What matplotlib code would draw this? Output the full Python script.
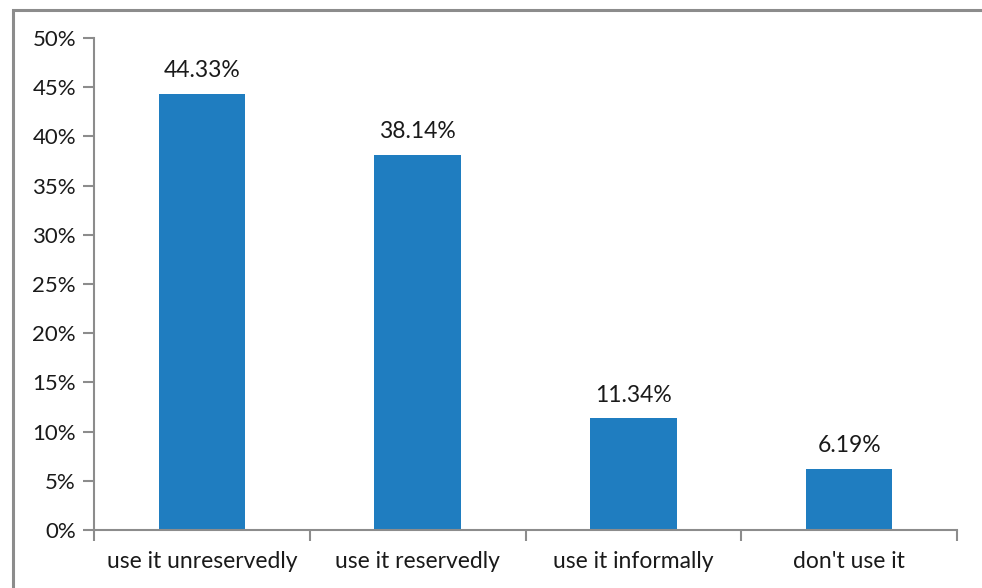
import matplotlib.pyplot as plt
from matplotlib.patches import Rectangle
from matplotlib.ticker import FuncFormatter

categories = ["use it unreservedly", "use it reservedly", "use it informally", "don't use it"]
shares = [44.33, 38.14, 11.34, 6.19]

plt.rcParams['font.family'] = ['Lato', 'DejaVu Sans']

fig = plt.figure(figsize=(9.82, 5.88), dpi=100)

# outer chart border (cut off at right/bottom like the source)
fig.patches.append(Rectangle((13 / 982, -0.1), 1.2, (588 - 10) / 588 + 0.1,
                             transform=fig.transFigure, fill=False,
                             edgecolor='#8c8c8c', linewidth=2.2))

ax = fig.add_axes([94 / 982, 58 / 588, (957 - 94) / 982, (530 - 38) / 588])

x = range(len(categories))
ax.bar(x, shares, width=0.4, color='#1f7dc0')
for i, v in zip(x, shares):
    ax.text(i, v + 1.3, f"{v:.2f}%", ha='center', va='bottom', fontsize=16.5,
            color='#1a1a1a')

ax.set_xlim(-0.5, len(categories) - 0.5)
ax.set_ylim(0, 50)
ax.set_yticks(range(0, 51, 5))
ax.yaxis.set_major_formatter(FuncFormatter(lambda v, p: f"{v:.0f}%"))

# category ticks sit at the boundaries, labels centred
ax.set_xticks([i - 0.5 for i in range(len(categories) + 1)])
ax.set_xticklabels([])
ax.set_xticks(list(x), minor=True)
ax.set_xticklabels(categories, minor=True)
ax.tick_params(axis='x', which='minor', length=0, pad=15, labelsize=16.5)
ax.tick_params(axis='x', which='major', length=8, width=1.5, color='#8c8c8c', direction='out')
ax.tick_params(axis='y', length=8, width=1.5, color='#8c8c8c', labelsize=16, pad=5)

for s in ['top', 'right']:
    ax.spines[s].set_visible(False)
for s in ['left', 'bottom']:
    ax.spines[s].set_color('#8c8c8c')
    ax.spines[s].set_linewidth(1.5)

for lbl in ax.get_yticklabels() + ax.get_xticklabels(minor=True):
    lbl.set_color('#1a1a1a')

fig.savefig('out.png', dpi=100)
